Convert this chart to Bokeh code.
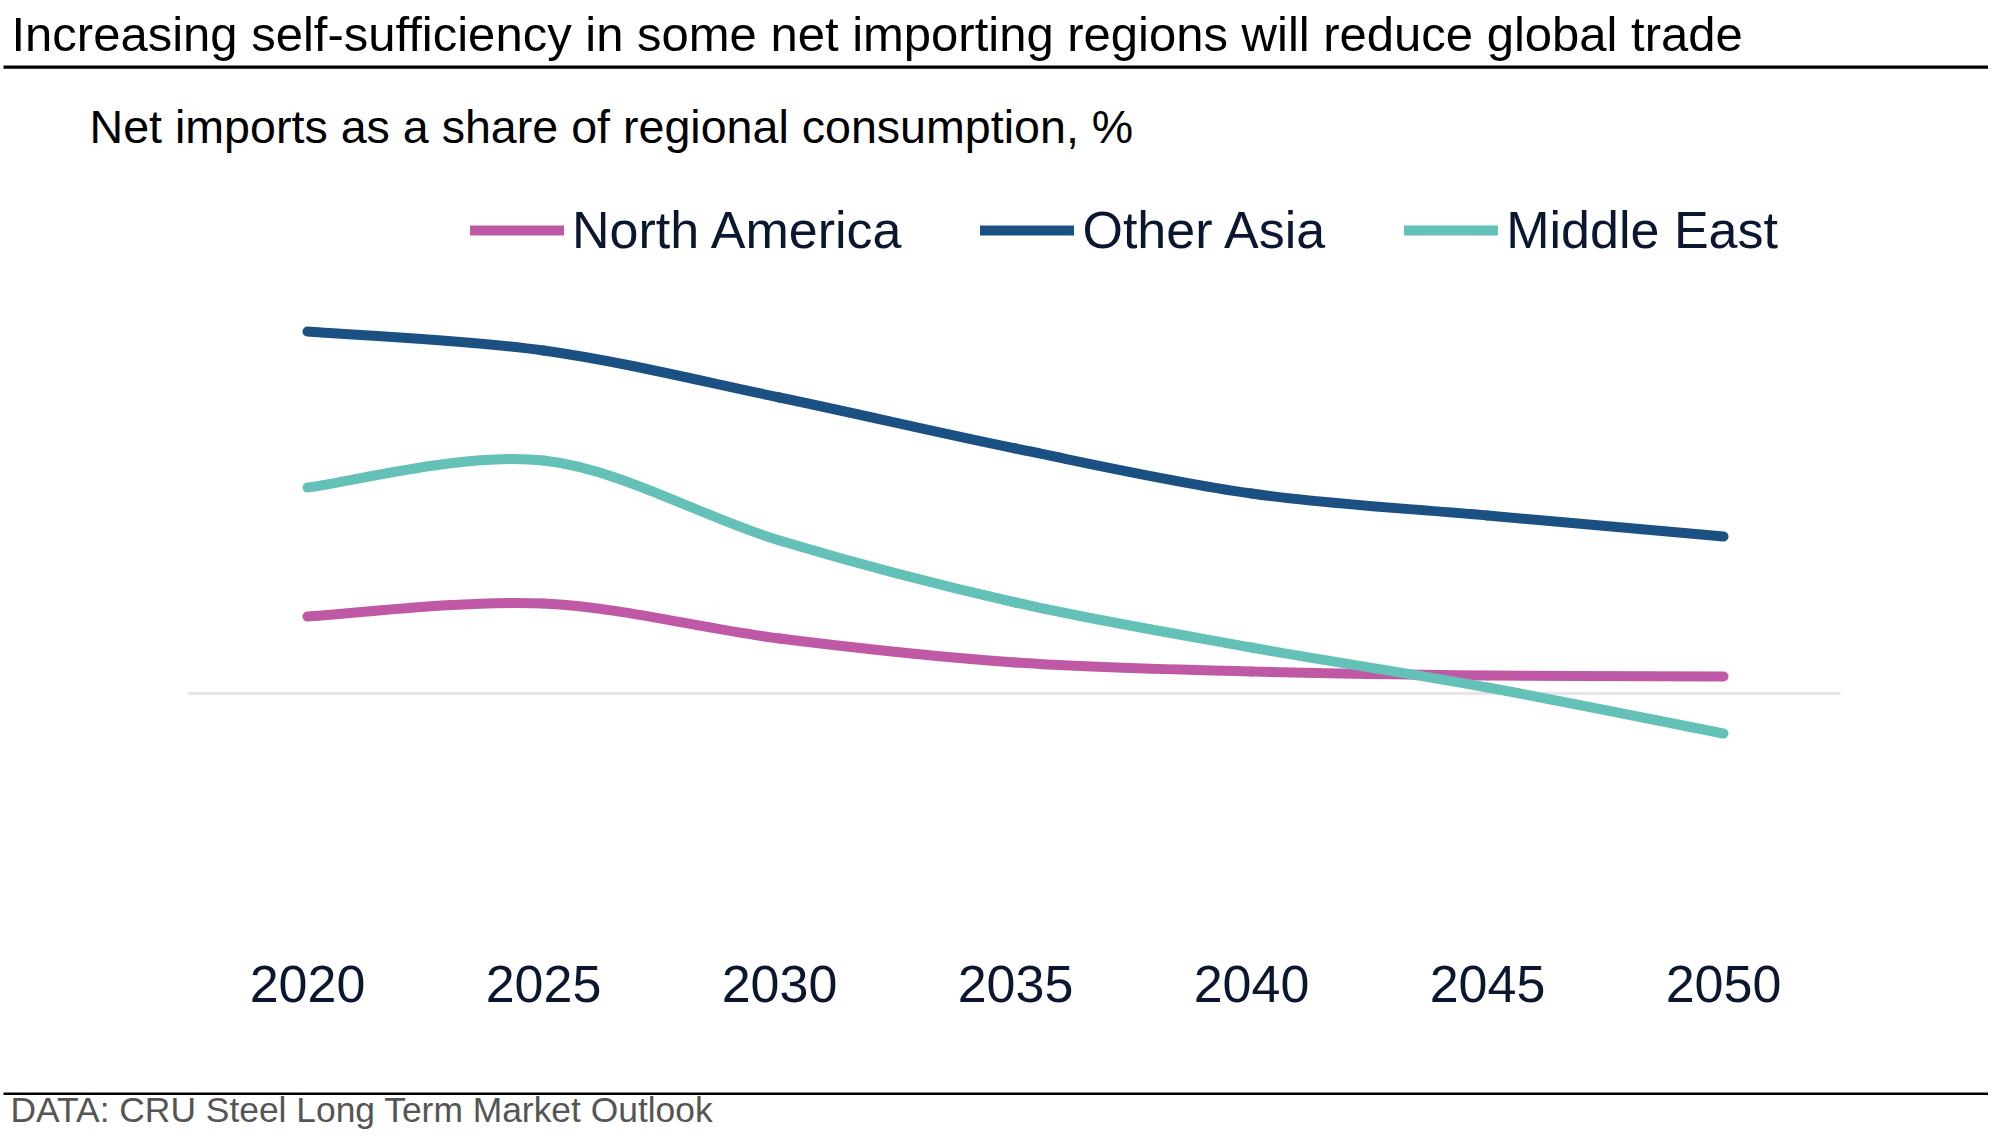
from bokeh.plotting import figure
from bokeh.models import (ColumnDataSource, Legend, LegendItem, Label, BoxAnnotation,
                          FixedTicker, Range1d)
from bokeh.embed import file_html
from bokeh.resources import INLINE

# ---------------- data ----------------
years = [2020, 2025, 2030, 2035, 2040, 2045, 2050]
tick_labels = ["2020", "2025", "2030", "2035", "2040", "2045", "2050"]
north_america = [7.7, 9.0, 5.5, 3.1, 2.2, 1.8, 1.7]
other_asia = [36.2, 34.3, 29.6, 24.5, 20.0, 17.8, 15.7]
middle_east = [20.6, 23.3, 15.3, 9.1, 4.6, 0.6, -4.0]
series_names = ["North America", "Other Asia", "Middle East"]
series_colors = ["#bf59a6", "#1a5182", "#63c1b8"]

title_text = "Increasing self-sufficiency in some net importing regions will reduce global trade"
subtitle_text = "Net imports as a share of regional consumption, %"
footer_text = "DATA: CRU Steel Long Term Market Outlook"

FONT = "Liberation Sans"
INK = "#0b1730"
W, H = 1988, 1130

# y: 10 px per percentage point, zero line at 693 px from the top
Y_END = 69.3
Y_START = -(H - 693) / 10.0
AXIS_Y = -(938 - 693) / 10.0     # where the (invisible) x axis sits


def smooth_segments(xs, ys):
    """Bezier segments (smoothed line) built from the data points."""
    n = len(xs)
    d = dict(x0=[], y0=[], x1=[], y1=[], cx0=[], cy0=[], cx1=[], cy1=[])
    for i in range(n - 1):
        xp, yp = (xs[i - 1], ys[i - 1]) if i > 0 else (xs[i], ys[i])
        xn, yn = (xs[i + 2], ys[i + 2]) if i + 2 < n else (xs[i + 1], ys[i + 1])
        d["x0"].append(xs[i]); d["y0"].append(ys[i])
        d["x1"].append(xs[i + 1]); d["y1"].append(ys[i + 1])
        d["cx0"].append(xs[i] + (xs[i + 1] - xp) / 6.0)
        d["cy0"].append(ys[i] + (ys[i + 1] - yp) / 6.0)
        d["cx1"].append(xs[i + 1] - (xn - xs[i]) / 6.0)
        d["cy1"].append(ys[i + 1] - (yn - ys[i]) / 6.0)
    return ColumnDataSource(d)


p = figure(width=W, height=H, output_backend="svg", toolbar_location=None,
           x_range=Range1d(2013.496, 2055.614), y_range=Range1d(Y_START, Y_END),
           min_border=0, y_axis_location=None, outline_line_color=None,
           background_fill_color="white", border_fill_color="white")
p.grid.visible = False

# x axis, drawn inside the frame
ax = p.xaxis[0]
ax.fixed_location = AXIS_Y
ax.ticker = FixedTicker(ticks=years)
ax.major_label_overrides = {y: t for y, t in zip(years, tick_labels)}
ax.axis_line_color = None
ax.major_tick_line_color = None
ax.minor_tick_line_color = None
ax.major_tick_out = 0
ax.major_label_standoff = 27
ax.major_label_text_font = FONT
ax.major_label_text_font_size = "52px"
ax.major_label_text_color = INK

# zero line (plot-area wide)
p.add_layout(BoxAnnotation(left=188, right=1840, left_units="screen", right_units="screen",
                           top=0.15, bottom=-0.15, fill_color="#e6e6e6", fill_alpha=1,
                           line_color=None, level="underlay"))

renderers = []
for vals, color in zip([north_america, other_asia, middle_east], series_colors):
    r = p.bezier(x0="x0", y0="y0", x1="x1", y1="y1", cx0="cx0", cy0="cy0",
                 cx1="cx1", cy1="cy1", source=smooth_segments(years, vals),
                 line_color=color, line_width=10, line_cap="round")
    renderers.append(r)

legend = Legend(items=[LegendItem(label=n, renderers=[r]) for n, r in zip(series_names, renderers)],
                orientation="horizontal", location=(470, H - 260),
                glyph_width=94, glyph_height=20, label_standoff=8, spacing=79,
                padding=0, margin=0, border_line_color=None, background_fill_alpha=0,
                label_text_font=FONT, label_text_font_size="52px", label_text_color=INK)
p.add_layout(legend, "center")


def txt(x, fy, text, size, color):
    p.add_layout(Label(x=x, y=H - fy, x_units="screen", y_units="screen", text=text,
                       text_font=FONT, text_font_size=size, text_color=color,
                       text_baseline="alphabetic"))


def rule(top_fy, bottom_fy):
    p.add_layout(BoxAnnotation(left=3, right=W, top=H - top_fy, bottom=H - bottom_fy,
                               left_units="screen", right_units="screen",
                               top_units="screen", bottom_units="screen",
                               fill_color="black", fill_alpha=1, line_color=None))


txt(11, 33, title_text, "49px", "black")
rule(65, 68.3)
txt(89, 126, subtitle_text, "46.6px", "black")
rule(1092, 1094.5)
txt(10, 1109, footer_text, "35.4px", "#555555")

open("out.html", "w").write(file_html(p, INLINE))
